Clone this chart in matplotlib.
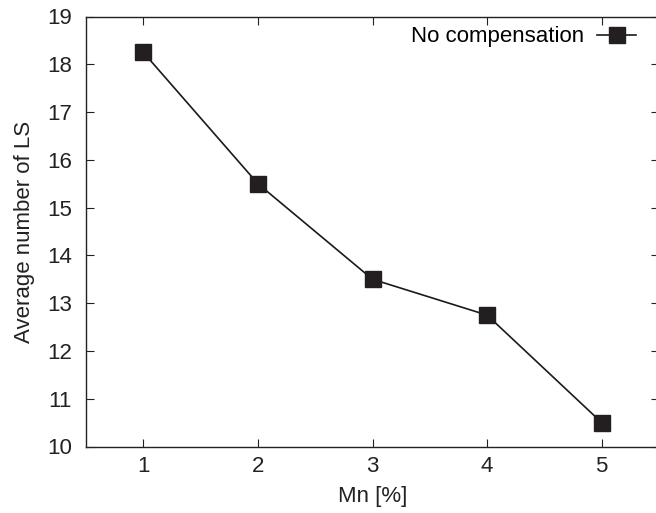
import matplotlib
matplotlib.use('Agg')
import matplotlib.pyplot as plt

plt.rcParams['font.family'] = ['Liberation Sans', 'DejaVu Sans']

mn = [1, 2, 3, 4, 5]
avg_ls = [18.25, 15.5, 13.5, 12.75, 10.5]
xticks = [1, 2, 3, 4, 5]
yticks = [10, 11, 12, 13, 14, 15, 16, 17, 18, 19]

fs = 16

fig = plt.figure(figsize=(6.56, 5.13), dpi=100)
ax = fig.add_axes([86/656, 1 - 446.5/513, 573/656, 430/513])

ax.plot(mn, avg_ls, color='#1a1a1a', lw=1.2, marker='s', ms=12,
        mfc='#231f20', mec='#231f20', label='No compensation')

ax.set_xlim(0.5, 5.5)
ax.set_ylim(10, 19)
ax.set_xticks(xticks)
ax.set_yticks(yticks)
ax.tick_params(direction='in', length=6, width=0.8, top=True, right=True,
               labelsize=fs, colors='#222222')
ax.tick_params(axis='y', pad=10)
ax.tick_params(axis='x', pad=7)
for s in ax.spines.values():
    s.set_linewidth(1.0)
    s.set_color('#222222')

ax.set_xlabel('Mn [%]', fontsize=fs, labelpad=6, color='#222222')
ax.set_ylabel('Average number of LS', fontsize=fs, labelpad=9, color='#222222')

ax.legend(loc='upper right', frameon=False, markerfirst=False, fontsize=fs,
          handlelength=1.75, handletextpad=0.6, borderaxespad=0.5,
          bbox_to_anchor=(1 - 3/573, 1 + 10/430))

fig.savefig('out.png', dpi=100)
